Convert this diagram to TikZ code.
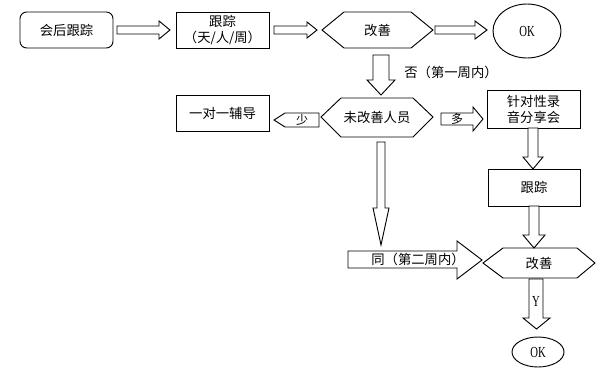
\documentclass[tikz,border=0pt]{standalone}
\usepackage{fontspec}
\usepackage{graphicx}
\setmainfont{Liberation Serif}
\newfontfamily\cjk{Noto Sans CJK SC}
\newcommand{\oknar}[1]{\scalebox{0.8}[1.15]{#1}}
\begin{document}
\begin{tikzpicture}[x=0.75pt,y=-0.75pt,
  every node/.style={font=\cjk\fontsize{10pt}{12pt}\selectfont},
  boxn/.style={draw,line width=0.7pt,minimum width=93*0.75pt,minimum height=36*0.75pt,inner sep=0pt,align=center},
  blk/.style={draw,line width=0.7pt,fill=white},
  hexs/.style={draw,line width=0.7pt},
  lbl/.style={inner sep=0pt},
  oktxt/.style={font=\fontsize{10pt}{12pt}\selectfont}]
\useasboundingbox (0,0) rectangle (606,372);
% nodes
\node[boxn,rounded corners=5pt] (n1) at (66.5,30) {会后跟踪};
\node[boxn] (n2) at (222.5,30) {跟踪\\（天/人/周）};
\draw[hexs] (322,30) -- (344,12) -- (411,12) -- (433,30) -- (411,48) -- (344,48) -- cycle;
\node[lbl] (h1) at (377.5,30) {改善};
\draw[line width=0.7pt] (527,31) ellipse [x radius=34, y radius=27];
\node[lbl,oktxt] (ok1) at (527,31) {\oknar{OK}};
\node[boxn,minimum height=36*0.75pt] (n3) at (222.5,113) {一对一辅导};
\draw[hexs] (321,117) -- (341,98) -- (413,98) -- (433,117) -- (413,137) -- (341,137) -- cycle;
\node[lbl] (h2) at (377,117) {未改善人员};
\node[boxn,minimum width=93*0.75pt,minimum height=38*0.75pt] (n4) at (533.5,109) {针对性录\\音分享会};
\node[boxn,minimum width=92*0.75pt,minimum height=37*0.75pt] (n5) at (534,187.5) {跟踪};
\draw[hexs] (483,263) -- (503,248) -- (577,248) -- (595,263) -- (577,278) -- (503,278) -- cycle;
\node[lbl] (h3) at (539,263) {改善};
\draw[line width=0.7pt] (538,352) ellipse [x radius=26, y radius=15];
\node[lbl,oktxt] (ok2) at (538,352) {\oknar{OK}};
% block arrows
\draw[blk] (117,26) -- (159,26) -- (159,21) -- (170,30) -- (159,39) -- (159,34) -- (117,34) -- cycle;
\draw[blk] (274,26) -- (307,26) -- (307,22) -- (317,30) -- (307,38) -- (307,34) -- (274,34) -- cycle;
\draw[blk] (435,26) -- (475,26) -- (475,21) -- (487,30) -- (475,39) -- (475,34) -- (435,34) -- cycle;
\draw[blk] (373,55) -- (389,55) -- (389,80) -- (395,80) -- (381,95) -- (367,80) -- (373,80) -- cycle;
\node[lbl] (l1) at (451,72) {否（第一周内）};
\draw[blk] (274,120) -- (285,113) -- (319,113) -- (319,127) -- (285,127) -- cycle;
\node[lbl,font=\cjk\fontsize{9pt}{10pt}\selectfont] (l2) at (302,120) {少};
\draw[blk] (441,113) -- (473,113) -- (473,107) -- (483,119) -- (473,131) -- (473,125) -- (441,125) -- cycle;
\node[lbl,font=\cjk\fontsize{9pt}{10pt}\selectfont] (l3) at (457,119) {多};
\draw[blk] (528,128) -- (538,128) -- (538,157) -- (543,157) -- (533,169) -- (523,157) -- (528,157) -- cycle;
\draw[blk] (529,206) -- (539,206) -- (539,235) -- (545,235) -- (534,248) -- (523,235) -- (529,235) -- cycle;
\draw[blk] (377,142) -- (385,142) -- (385,208) -- (389,208) -- (381,245) -- (373,208) -- (377,208) -- cycle;
\draw[blk] (348,251) -- (457,251) -- (457,241) -- (482,260) -- (457,279) -- (457,268) -- (348,268) -- cycle;
\node[lbl] (l4) at (418,259.5) {同（第二周内）};
\draw[blk] (529,279) -- (543,279) -- (543,318) -- (550,318) -- (536.5,329) -- (523,318) -- (529,318) -- cycle;
\node[lbl,oktxt] (l5) at (536,301) {\oknar{Y}};
\end{tikzpicture}
\end{document}
